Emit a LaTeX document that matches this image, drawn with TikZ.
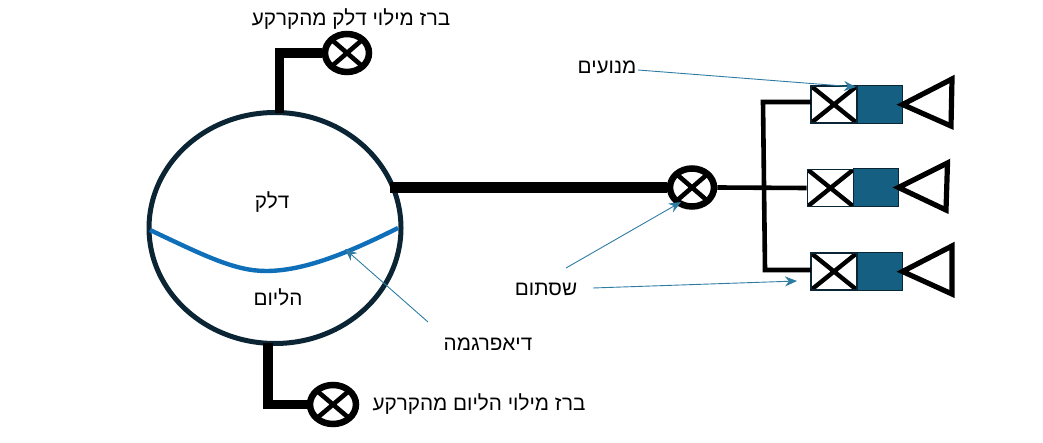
\documentclass[tikz,border=0pt]{standalone}
\usepackage{fontspec}
\usetikzlibrary{shapes.geometric,arrows.meta}
\TeXXeTstate=1
\newfontfamily\hebfont[Script=Hebrew]{Liberation Sans}
\definecolor{tankline}{HTML}{0B2535}
\definecolor{engblue}{HTML}{156082}
\definecolor{membrane}{HTML}{0F6FB8}
\definecolor{leader}{HTML}{2F7CA3}
\newcommand{\heb}[1]{{\hebfont\beginR #1\endR}}
\tikzset{
  x=1pt,y=-1pt,
  lbl/.style={inner sep=0pt,font=\fontsize{20.7}{22}\selectfont,text=black},
  tank/.style={ellipse,draw=tankline,line width=5pt,minimum width=252,minimum height=231,inner sep=0pt},
  valve/.style={ellipse,draw=black,line width=6.5pt,minimum width=44,minimum height=38,inner sep=0pt,
    path picture={\draw[black,line width=4.6pt]
      (path picture bounding box.north west)--(path picture bounding box.south east)
      (path picture bounding box.north east)--(path picture bounding box.south west);}},
  pipe/.style={draw=black,line width=9.5pt,line join=miter},
  mainpipe/.style={draw=black,line width=11.5pt},
  thinpipe/.style={draw=black,line width=4.6pt},
  xbox/.style={rectangle,draw=tankline,line width=1.6pt,fill=white,minimum width=46,minimum height=37,inner sep=0pt,
    path picture={\draw[black,line width=4.4pt]
      (path picture bounding box.north west)--(path picture bounding box.south east)
      (path picture bounding box.north east)--(path picture bounding box.south west);}},
  bluebox/.style={rectangle,draw=tankline,line width=1pt,fill=engblue,minimum width=45,minimum height=38.5,inner sep=0pt},
  nozzle/.style={draw=black,line width=5.2pt,line join=miter,fill=white},
  leaderline/.style={draw=leader,line width=0.9pt,-{Stealth[length=12pt,width=10pt,fill=leader]}},
  membraneline/.style={draw=membrane,line width=4.4pt},
}
\begin{document}
\begin{tikzpicture}
\useasboundingbox (0,0) rectangle (1043,443);
\node[tank] (tank) at (275,228) {};
\coordinate (fueltop) at (279.5,113);
\coordinate (heltop) at (268,343);
\coordinate (maino) at (390,187.5);
\node[valve] (vfuel) at (347,53) {};
\node[valve,minimum width=46,minimum height=39] (vhe) at (333,404.5) {};
\node[valve] (vmain) at (692,187.5) {};
\draw[pipe] (fueltop) |- (vfuel.west);
\draw[pipe] (heltop) |- (vhe.west);
\draw[mainpipe] (maino) -- (vmain.west);

% engines
\node[xbox] (x1) at (834,104.5) {};
\node[bluebox] (b1) at (879.5,104.5) {};
\node[xbox] (x2) at (830.5,188) {};
\node[bluebox] (b2) at (875.5,187.5) {};
\node[xbox] (x3) at (834,271.5) {};
\node[bluebox] (b3) at (879.5,271.5) {};
\coordinate (n1a) at (952,79); \coordinate (n1b) at (951,126);
\coordinate (n2a) at (947.5,163); \coordinate (n2b) at (946,210);
\coordinate (n3a) at (952,246); \coordinate (n3b) at (952,294);
\draw[nozzle] (b1.east) -- (n1a) -- (n1b) -- cycle;
\draw[nozzle] (b2.east) -- (n2a) -- (n2b) -- cycle;
\draw[nozzle] (b3.east) -- (n3a) -- (n3b) -- cycle;

% manifold
\coordinate (mtop) at (763,102);
\coordinate (mbot) at (765,270);
\coordinate (x1in) at (811,102);
\coordinate (x3in) at (811,270);
\draw[thinpipe] (vmain.east) -- (x2.west);
\draw[thinpipe] (x1in) -- (mtop) -- (mbot) -- (x3in);

% membrane
\coordinate (mL) at (150,230);
\coordinate (mR) at (398,228);
\draw[membraneline] (mL) .. controls (205,256) and (235,271) .. (266,271)
  .. controls (305,271) and (350,252) .. (mR);

% labels
\node[lbl] (lfuelv) at (351,19) {\heb{ברז מילוי דלק מהקרקע}};
\node[lbl] (lhev) at (479,404) {\heb{ברז מילוי הליום מהקרקע}};
\node[lbl] (lfuel) at (272,202) {\heb{דלק}};
\node[lbl] (lhe) at (278,297) {\heb{הליום}};
\node[lbl] (ldia) at (488,344) {\heb{דיאפרגמה}};
\node[lbl] (lval) at (546,289) {\heb{שסתום}};
\node[lbl] (leng) at (607,67) {\heb{מנועים}};

% leaders
\coordinate (aeng) at (638,70);  \coordinate (teng) at (856,87);
\coordinate (av1) at (566,268);  \coordinate (tv1) at (681,202);
\coordinate (av2) at (593,288);  \coordinate (tv2) at (797,281);
\coordinate (adia) at (428,322); \coordinate (tdia) at (345,249);
\draw[leaderline] (aeng) -- (teng);
\draw[leaderline] (av1) -- (tv1);
\draw[leaderline] (av2) -- (tv2);
\draw[leaderline] (adia) -- (tdia);
\end{tikzpicture}
\end{document}
